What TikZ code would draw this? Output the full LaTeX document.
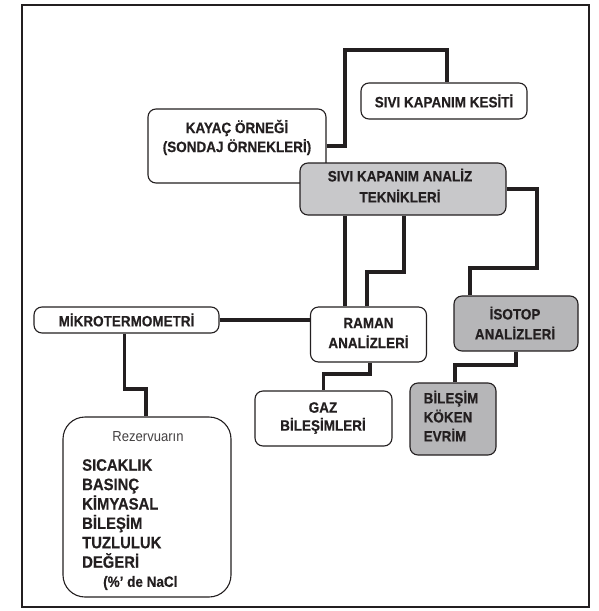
\documentclass[tikz,border=0pt]{standalone}
\usepackage{fontspec}
\setmainfont[FakeStretch=0.9, BoldFeatures={FakeBold=0.4}]{Liberation Sans}
\definecolor{ink}{HTML}{231F20}
\definecolor{lgray}{HTML}{C8C8CA}
\definecolor{dgray}{HTML}{B6B6B8}
\begin{document}
\begin{tikzpicture}[x=1pt,y=-1pt,
  box/.style={draw=ink, line width=1.1pt, rounded corners=8pt, fill=white, inner sep=0pt},
  lbl/.style={text=ink, align=center, inner sep=0pt, font=\bfseries\fontsize{15}{20}\selectfont},
  conn/.style={draw=ink, line width=3.6pt, line join=miter}]
\useasboundingbox (0,0) rectangle (598,611);
\draw[ink, line width=2.6pt] (22,5) rectangle (589,607);

% boxes
\node[box, minimum width=166, minimum height=36] (kesiti) at (444,101) {};
\node[box, minimum width=178, minimum height=74] (kayac) at (237,146) {};
\node[box, fill=lgray, minimum width=206, minimum height=52] (analiz) at (403,189) {};
\node[box, minimum width=185, minimum height=26] (mikro) at (126.5,320) {};
\node[box, minimum width=116, minimum height=55] (raman) at (368.5,334.5) {};
\node[box, fill=dgray, minimum width=124, minimum height=55] (isotop) at (516,323.5) {};
\node[box, minimum width=137, minimum height=55] (gaz) at (323.5,418.5) {};
\node[box, fill=dgray, minimum width=86, minimum height=72] (bilesim) at (453,419) {};
\node[box, rounded corners=22pt, minimum width=168, minimum height=180] (rezerv) at (147,507) {};

% labels
\node[lbl] (kesitiT) at (kesiti.center) {SIVI KAPANIM KESİTİ};
\node[lbl, font=\bfseries\fontsize{15}{19}\selectfont] (kayacT) at (237,137.5) {KAYAÇ ÖRNEĞİ\\(SONDAJ ÖRNEKLERİ)};
\node[lbl, font=\bfseries\fontsize{15}{21}\selectfont] (analizT) at (400,185.5) {SIVI KAPANIM ANALİZ\\TEKNİKLERİ};
\node[lbl] (mikroT) at (mikro.center) {MİKROTERMOMETRİ};
\node[lbl] (ramanT) at (368.5,333) {RAMAN\\ANALİZLERİ};
\node[lbl] (isotopT) at (515,323) {İSOTOP\\ANALİZLERİ};
\node[lbl, font=\bfseries\fontsize{15}{18}\selectfont] (gazT) at (323,418) {GAZ\\BİLEŞİMLERİ};
\node[lbl, align=left, font=\bfseries\fontsize{15}{19}\selectfont] (bilesimT) at (451,416) {BİLEŞİM\\KÖKEN\\EVRİM};
\node[lbl, text=ink!85, font=\fontsize{14.5}{16}\selectfont] (rezT) at (148,437) {Rezervuarın};
\node[lbl, align=left, anchor=north west, font=\bfseries\fontsize{16.5}{19.4}\selectfont] (listT) at (82,459) {SICAKLIK\\BASINÇ\\KİMYASAL\\BİLEŞİM\\TUZLULUK\\DEĞERİ};
\node[lbl, anchor=west, font=\bfseries\fontsize{15}{18}\selectfont] (naclT) at (103,583) {(\%' de NaCl};

% connectors
\coordinate (k1) at (345,50);
\coordinate (a1) at (537,268);
\coordinate (r1) at (345,0);
\coordinate (r2) at (404,272);
\coordinate (r3) at (367,0);
\coordinate (i1) at (470,0);
\coordinate (m1) at (146,389);
\coordinate (g1) at (370,374);
\coordinate (b1) at (455,365);
\draw[conn] (kayac.east) -| (k1) -| ([xshift=3]kesiti.north);
\draw[conn] (analiz.east) -| (a1) -| (isotop.north -| i1);
\draw[conn] (analiz.south -| r1) -- (raman.north -| r1);
\draw[conn] (analiz.south -| r2) -- (r2) -| (raman.north -| r3);
\draw[conn] (mikro.east) -- (raman.west |- mikro.east);
\draw[conn] ([xshift=-2]mikro.south) |- (m1) -- (rezerv.north -| m1);
\draw[conn] (raman.south -| g1) |- (gaz.north |- g1) -- (gaz.north);
\draw[conn] (isotop.south) |- (b1) -- (bilesim.north -| b1);
\end{tikzpicture}
\end{document}
